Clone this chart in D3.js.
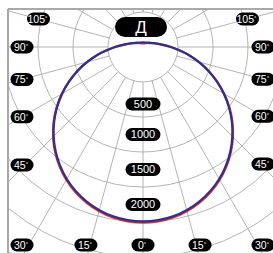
<!DOCTYPE html>
<html>
<head>
<meta charset="utf-8">
<script src="https://cdn.jsdelivr.net/npm/d3@7"></script>
<style>
  html, body { margin: 0; padding: 0; background: #fff; }
  svg { display: block; font-family: "Liberation Sans", Arial, sans-serif; }
</style>
</head>
<body>
<div id="chart"></div>
<script>
// Chart data
const curveType = "Д";
const angles = [0, 10, 20, 30, 40, 50, 60, 70, 80, 90, 100, 110, 120, 130, 140, 150, 160, 170, 180];
const seriesBlue = [1994, 1966, 1880, 1742, 1554, 1326, 1067, 794, 531, 320, 193, 129, 96, 78, 66, 59, 54, 53, 51];
const seriesRed = [2008, 1979, 1892, 1753, 1564, 1334, 1073, 798, 533, 320, 191, 125, 90, 71, 57, 49, 43, 42, 40];
const gridRings = [400, 800, 1200, 1600, 2000, 2400, 2800];
const ringLabels = [500, 1000, 1500, 2000];
const gridAngles = d3.range(-180, 181, 15);
const angleLabels = [-105, -90, -75, -60, -45, -30, -15, 0, 15, 30, 45, 60, 75, 90, 105];

const width = 273, height = 253;
const cx = 143, cy = 47;
const frameLeft = 8, frameTop = 9;

const svg = d3.select("#chart").append("svg")
    .attr("width", width)
    .attr("height", height);

const rScale = d3.scaleLinear().domain([0, 2000]).range([0, 175]);

// angle in degrees from straight down -> radians for d3 radial (0 = up, clockwise)
const toRad = a => Math.PI - a * Math.PI / 180;

svg.append("clipPath").attr("id", "plot-clip")
  .append("rect")
    .attr("x", frameLeft + 1)
    .attr("y", frameTop + 1)
    .attr("width", width - frameLeft - 1)
    .attr("height", height - frameTop - 1);

const grid = svg.append("g")
    .attr("clip-path", "url(#plot-clip)")
  .append("g")
    .attr("transform", `translate(${cx},${cy})`);

// rings
grid.selectAll("circle.ring")
  .data(gridRings)
  .join("circle")
    .attr("class", "ring")
    .attr("r", d => rScale(d))
    .attr("fill", "none")
    .attr("stroke", "#acacac")
    .attr("stroke-width", 0.9);

// radial lines, starting at the inner ring
const r0 = rScale(gridRings[0]);
const rMax = 400;
grid.selectAll("line.spoke")
  .data(gridAngles)
  .join("line")
    .attr("class", "spoke")
    .attr("x1", d => r0 * Math.sin(d * Math.PI / 180))
    .attr("y1", d => r0 * Math.cos(d * Math.PI / 180))
    .attr("x2", d => rMax * Math.sin(d * Math.PI / 180))
    .attr("y2", d => rMax * Math.cos(d * Math.PI / 180))
    .attr("stroke", "#acacac")
    .attr("stroke-width", 0.9);

// frame
svg.append("line")
    .attr("x1", frameLeft).attr("x2", width)
    .attr("y1", frameTop).attr("y2", frameTop)
    .attr("stroke", "#a9a9a9").attr("stroke-width", 2);
svg.append("line")
    .attr("x1", frameLeft).attr("x2", frameLeft)
    .attr("y1", frameTop).attr("y2", height)
    .attr("stroke", "#a9a9a9").attr("stroke-width", 2);

// curves: mirror the half-plane data to close the loop
function fullLoop(values) {
  const pts = angles.map((a, i) => [a, values[i]]);
  const left = pts.slice(1, -1).reverse().map(([a, v]) => [-a, v]);
  return pts.concat(left);
}

const line = d3.lineRadial()
    .angle(d => toRad(d[0]))
    .radius(d => rScale(d[1]))
    .curve(d3.curveCatmullRomClosed);

const plot = svg.append("g").attr("transform", `translate(${cx},${cy})`);

plot.append("path")
    .attr("d", line(fullLoop(seriesRed)))
    .attr("fill", "none")
    .attr("stroke", "#ee3124")
    .attr("stroke-width", 2.2);

plot.append("path")
    .attr("d", line(fullLoop(seriesBlue)))
    .attr("fill", "none")
    .attr("stroke", "#2e3192")
    .attr("stroke-width", 2.3);

// ring value labels along the 0° axis
const ringLabelG = svg.append("g");
ringLabels.forEach((v, i) => {
  const mid = (rScale(gridRings[i]) + rScale(gridRings[i + 1])) / 2;
  const y = cy + Math.max(mid, 57);
  const g = ringLabelG.append("g").attr("transform", `translate(${cx},${y})`);
  g.append("rect")
      .attr("x", -17.5).attr("y", -6.5)
      .attr("width", 35).attr("height", 13)
      .attr("rx", 6.5)
      .attr("fill", "#000");
  g.append("text")
      .attr("text-anchor", "middle")
      .attr("dy", "0.36em")
      .attr("fill", "#fff")
      .style("font-size", "11px")
      .text(v);
});

// angle labels at the frame edges (bottom ones use a ray to a lower line, then clamp)
const boxL = 22, boxR = 263, boxT = 19, boxB = 245, rayB = 260;
function labelPos(a) {
  const s = Math.sin(a * Math.PI / 180), c = Math.cos(a * Math.PI / 180);
  let t = Infinity;
  if (s < 0) t = Math.min(t, (boxL - cx) / s);
  if (s > 0) t = Math.min(t, (boxR - cx) / s);
  if (c > 0) t = Math.min(t, (rayB - cy) / c);
  if (c < 0) t = Math.min(t, (boxT - cy) / c);
  const x = Math.max(boxL, Math.min(boxR, cx + t * s));
  const y = Math.max(boxT, Math.min(boxB, cy + t * c - (Math.abs(a) === 45 ? 3 : 0)));
  return [x, y];
}

const angleG = svg.append("g");
angleLabels.forEach(a => {
  const [x, y] = labelPos(a);
  const g = angleG.append("g").attr("transform", `translate(${x},${y})`);
  g.append("rect")
      .attr("x", -11.5).attr("y", -6.5)
      .attr("width", 23).attr("height", 13)
      .attr("rx", 6.5)
      .attr("fill", "#000");
  const t = g.append("text")
      .attr("text-anchor", "middle")
      .attr("dy", "0.36em")
      .attr("x", -1)
      .attr("fill", "#fff")
      .style("font-size", "10.5px");
  t.append("tspan").text(Math.abs(a));
  t.append("tspan")
      .attr("dy", "-0.45em")
      .style("font-size", "6px")
      .text("°");
});

// curve type badge
const badge = svg.append("g").attr("transform", `translate(${cx - 2},27)`);
badge.append("rect")
    .attr("x", -26).attr("y", -10)
    .attr("width", 52).attr("height", 20)
    .attr("rx", 10)
    .attr("fill", "#000");
badge.append("text")
    .attr("text-anchor", "middle")
    .attr("dy", "0.37em")
    .attr("fill", "#fff")
    .style("font-size", "17px")
    .text(curveType);
</script>
</body>
</html>
